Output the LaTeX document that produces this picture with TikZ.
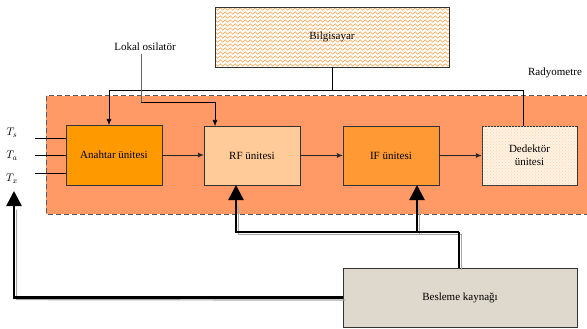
\documentclass[tikz,border=0pt]{standalone}
\usepackage{fontspec}
\setmainfont{Liberation Serif}
\usepackage{xcolor}
\usetikzlibrary{positioning, arrows.meta, shapes, patterns, decorations.pathmorphing}

\definecolor{radyo}{HTML}{FF9966}
\definecolor{anahtar}{HTML}{FF9900}
\definecolor{rfcol}{HTML}{FFCC99}
\definecolor{ifcol}{HTML}{FF9933}
\definecolor{dedcol}{HTML}{FFF3E4}
\definecolor{besle}{HTML}{DFD8CC}

\begin{document}
\begin{tikzpicture}[
        x=1pt, y=-1pt,
        unit_style/.style={draw=black!80, minimum width=96pt, minimum height=59pt, font=\fontsize{11}{13}\selectfont, align=center},
        big_style/.style={draw=black!80, minimum width=234pt, minimum height=60pt, font=\fontsize{11}{13}\selectfont},
        sig_style/.style={black!85, line width=0.9pt, -{Latex[length=6pt, width=5pt]}},
        ctl_style/.style={black, line width=0.6pt},
        pwr_style/.style={black, line width=2.6pt},
        shadow_style/.style={gray!70, line width=1.2pt, transform canvas={shift={(2.6,2.6)}}},
        tip_style/.style={-{Triangle[length=15pt, width=15pt]}},
        label_style/.style={font=\fontsize{11}{13}\selectfont}
    ]
        \useasboundingbox (0,0) rectangle (587,329);
        \clip (0,0) rectangle (587,329);

        % Radyometre region
        \fill[radyo] (46,96) rectangle (600,214);
        \draw[black!65, line width=1pt, dash pattern=on 5pt off 3pt] (46,96) rectangle (600,214);
        \node[label_style] at (555,73) {Radyometre};

        % Nodes
        \node[unit_style, fill=anahtar, minimum height=60pt] (anahtar) at (114,155) {Anahtar ünitesi};
        \node[unit_style, fill=rfcol] (rf) at (252,155.5) {RF ünitesi};
        \node[unit_style, fill=ifcol] (if) at (391,155.5) {IF ünitesi};
        \node[unit_style, fill=dedcol, minimum width=95pt,
              postaction={pattern=crosshatch dots, pattern color=orange!35}] (dedektor) at (529.5,155.5) {Dedektör\\ünitesi};
        \node[big_style, fill=white] (bilgisayar) at (332,37) {};
        \node[big_style, fill=besle, minimum height=59pt] (besleme) at (460,297.5) {Besleme kaynağı};

        % Zigzag fill of Bilgisayar
        \begin{scope}
            \clip (bilgisayar.south west) rectangle (bilgisayar.north east);
            \foreach \yy in {9,13,...,65}
                \draw[orange!75, line width=0.5pt, decorate, decoration={zigzag, segment length=5pt, amplitude=1.2pt}]
                    (214,\yy) -- (452,\yy);
        \end{scope}
        \draw[black!80] (bilgisayar.south west) rectangle (bilgisayar.north east);
        \node[label_style, inner sep=1pt] at (bilgisayar) {Bilgisayar};

        % Temperature inputs
        \node[label_style] (Ts) at (12,133) {$T_s$};
        \node[label_style] (Ta) at (12,156) {$T_a$};
        \node[label_style] (Tx) at (12,179) {$T_x$};
        \coordinate (ts_in) at (35,138);
        \coordinate (ta_in) at (35,155.5);
        \coordinate (tx_in) at (35,173);
        \draw[ctl_style] (ts_in) -- (ts_in -| anahtar.west);
        \draw[ctl_style] (ta_in) -- (ta_in -| anahtar.west);
        \draw[ctl_style] (tx_in) -- (tx_in -| anahtar.west);

        % Signal chain
        \draw[sig_style] (anahtar.east) -- (anahtar.east -| rf.west);
        \draw[sig_style] (rf.east) -- (rf.east -| if.west);
        \draw[sig_style] (if.east) -- (if.east -| dedektor.west);

        % Computer bus
        \coordinate (bus) at (332,90);
        \coordinate (ana_top) at (109,125);
        \coordinate (ded_top) at (523,126);
        \draw[ctl_style] (bilgisayar.south) -- (bus);
        \draw[ctl_style, -{Latex[length=6pt, width=5pt]}] (bus) -| (ana_top);
        \draw[ctl_style] (bus) -| (ded_top);

        % Local oscillator
        \node[label_style] (lokal) at (145,47) {Lokal osilatör};
        \coordinate (lo_bend) at (141,102);
        \coordinate (rf_top) at (215,126);
        \draw[gray!80!black, line width=0.8pt] (lokal.south -| lo_bend) -- (lo_bend);
        \draw[ctl_style, -{Latex[length=6pt, width=5pt]}] (lo_bend) -| (rf_top);

        % Power lines
        \coordinate (pw_split) at (459,232);
        \coordinate (pw_rf) at (236,185);
        \coordinate (pw_if) at (417,185);
        \coordinate (pw_left) at (14,297);
        \coordinate (pw_tx) at (14,191);
        \draw[shadow_style] (besleme.north -| pw_split) -- (pw_split) -- (pw_split -| pw_rf) -- ([yshift=-16]pw_rf);
        \draw[shadow_style] (pw_split -| pw_if) -- ([yshift=-16]pw_if);
        \draw[shadow_style] (besleme.west) -- (pw_left) -- ([yshift=-16]pw_tx);
        \draw[pwr_style] (besleme.north -| pw_split) -- (pw_split);
        \draw[pwr_style, tip_style] (pw_split) -| (pw_rf);
        \draw[pwr_style, tip_style] (pw_split -| pw_if) -- (pw_if);
        \draw[pwr_style, tip_style] (besleme.west) -| (pw_tx);
    \end{tikzpicture}
\end{document}
